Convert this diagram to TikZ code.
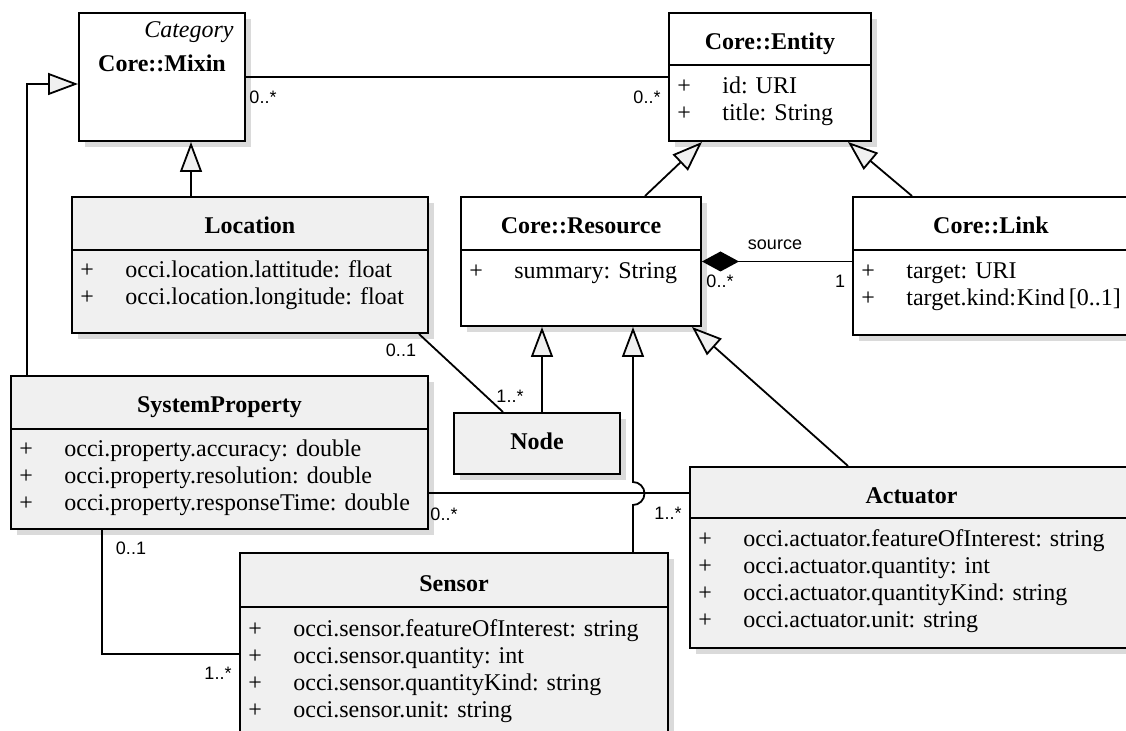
\documentclass[tikz,border=0pt]{standalone}
\usepackage{fontspec}
\setmainfont{Liberation Serif}
\setsansfont{Liberation Sans}
\definecolor{umlfill} {RGB}{240,240,240}
\definecolor{umlshade}{RGB}{218,218,218}
\usetikzlibrary{arrows.meta,positioning,shadows,calc}
\tikzset{
  cls/.style={rectangle,draw=black,line width=1pt,fill=#1,anchor=north west,
              inner sep=0pt,drop shadow={shadow xshift=3pt,shadow yshift=-3pt,
              fill=umlshade,opacity=1}},
  cls/.default=white,
  ttl/.style={anchor=base,inner sep=0pt,font=\fontsize{12}{13.5}\selectfont\bfseries},
  attr/.style={anchor=base west,inner sep=0pt,xshift=4.5pt,
               font=\fontsize{12}{13.5}\selectfont},
  divider/.style={line width=1pt},
  gen/.style={-{Triangle[open,fill=umlfill,length=15pt,width=11pt]},line width=0.9pt},
  assoc/.style={line width=0.9pt},
  comp/.style={{Diamond[length=18.5pt,width=10pt]}-,line width=0.9pt},
  mult/.style={font=\sffamily\fontsize{9}{10}\selectfont,inner sep=0pt},
}
\begin{document}
\begin{tikzpicture}[x=0.5pt,y=-0.5pt]
  \useasboundingbox (0,0) rectangle (1126,731);
  \clip (0,0) rectangle (1126,731);
  % class boxes
  \node[cls,minimum width=83pt,minimum height=64pt] (mixin) at (78,12) {};
  \node[cls,minimum width=101pt,minimum height=64pt] (entity) at (668,12) {};
  \node[cls=umlfill,minimum width=178pt,minimum height=68pt] (loc) at (71,196) {};
  \node[cls,minimum width=120pt,minimum height=64.5pt] (res) at (460,196) {};
  \node[cls,minimum width=138pt,minimum height=69pt] (link) at (852,196) {};
  \node[cls=umlfill,minimum width=208.5pt,minimum height=76.5pt] (sys) at (10,375) {};
  \node[cls=umlfill,minimum width=83pt,minimum height=30.5pt] (nd) at (453,412) {};
  \node[cls=umlfill,minimum width=221.5pt,minimum height=90.5pt] (act) at (689,466) {};
  \node[cls=umlfill,minimum width=214pt,minimum height=100pt] (sen) at (239,552) {};
  % compartments
  \draw[divider] (entity.west |- 0,65) -- (entity.east |- 0,65);
  \draw[divider] (loc.west |- 0,250) -- (loc.east |- 0,250);
  \draw[divider] (res.west |- 0,250) -- (res.east |- 0,250);
  \draw[divider] (link.west |- 0,250) -- (link.east |- 0,250);
  \draw[divider] (sys.west |- 0,429) -- (sys.east |- 0,429);
  \draw[divider] (act.west |- 0,518) -- (act.east |- 0,518);
  \draw[divider] (sen.west |- 0,607) -- (sen.east |- 0,607);
  % names
  \node[anchor=base east,inner sep=0pt,xshift=-6pt,
        font=\fontsize{12}{13.5}\selectfont\itshape] (mixin-st) at (mixin.east |- 0,38) {Category};
  \node[ttl] (mixin-t) at (mixin.north |- 0,72) {Core::Mixin};
  \node[ttl] (entity-t) at (entity.north |- 0,50) {Core::Entity};
  \node[ttl] (loc-t) at (loc.north |- 0,234) {Location};
  \node[ttl] (res-t) at (res.north |- 0,234) {Core::Resource};
  \node[ttl] (link-t) at (link.north |- 0,234) {Core::Link};
  \node[ttl] (sys-t) at (sys.north |- 0,413) {SystemProperty};
  \node[ttl] (nd-t) at (nd.north |- 0,450) {Node};
  \node[ttl] (act-t) at (act.north |- 0,504) {Actuator};
  \node[ttl] (sen-t) at (sen.north |- 0,592) {Sensor};
  % attributes
  \node[attr] (entity-a) at (entity.west |- 0,94) {\begin{tabular}[t]{@{}p{22.5pt}@{}l@{}}
    + & id: URI\\ + & title: String\end{tabular}};
  \node[attr] (loc-a) at (loc.west |- 0,278) {\begin{tabular}[t]{@{}p{22.5pt}@{}l@{}}
    + & occi.location.lattitude: float\\ + & occi.location.longitude: float\end{tabular}};
  \node[attr] (res-a) at (res.west |- 0,279) {\begin{tabular}[t]{@{}p{22.5pt}@{}l@{}}
    + & summary: String\end{tabular}};
  \node[attr] (link-a) at (link.west |- 0,279) {\begin{tabular}[t]{@{}p{22.5pt}@{}l@{}}
    + & target: URI\\ + & target.kind:\hspace{0.5pt}Kind\hspace{2pt}[0..1]\end{tabular}};
  \node[attr] (sys-a) at (sys.west |- 0,457) {\begin{tabular}[t]{@{}p{22.5pt}@{}l@{}}
    + & occi.property.accuracy: double\\
    + & occi.property.resolution: double\\
    + & occi.property.responseTime: double\end{tabular}};
  \node[attr] (act-a) at (act.west |- 0,547) {\begin{tabular}[t]{@{}p{22.5pt}@{}l@{}}
    + & occi.actuator.featureOfInterest: string\\
    + & occi.actuator.quantity: int\\
    + & occi.actuator.quantityKind: string\\
    + & occi.actuator.unit: string\end{tabular}};
  \node[attr] (sen-a) at (sen.west |- 0,637) {\begin{tabular}[t]{@{}p{22.5pt}@{}l@{}}
    + & occi.sensor.featureOfInterest: string\\
    + & occi.sensor.quantity: int\\
    + & occi.sensor.quantityKind: string\\
    + & occi.sensor.unit: string\end{tabular}};
  % generalisations
  \draw[gen] (loc.north -| 191,0) -- (mixin.south -| 191,0);
  \draw[gen] (sys.north -| 27,0) |- (mixin.west |- 0,84);
  \draw[gen] (nd.north -| 542,0) -- (res.south -| 542,0);
  \draw[gen] (res.north -| 645,0) -- (entity.south -| 702,0);
  \draw[gen] (link.north -| 912,0) -- (entity.south -| 848,0);
  \draw[gen] (act.north -| 848,0) -- (res.south -| 692,0);
  \draw[gen] (sen.north -| 633,0) -- (633,505)
    arc[start angle=90,end angle=-90,radius=11.5] -- (res.south -| 633,0);
  % associations
  \draw[assoc] (mixin.east) -- (entity.west);
  \draw[assoc] ([xshift=-5pt]loc.south east) -- ([xshift=25pt]nd.north west);
  \draw[comp] (res.east) -- (res.east -| link.west);
  \draw[assoc] (sys.east |- 0,493) -- (act.west |- 0,493);
  \draw[assoc] (sys.south -| 102,0) |- (sen.west |- 0,654);
  % multiplicities
  \node[mult] (m-mixin) at (263,97) {0..*};
  \node[mult] (m-entity) at (647,97) {0..*};
  \node[mult] (m-loc) at (401,350) {0..1};
  \node[mult] (m-nd) at (510,396) {1..*};
  \node[mult] (src) at (775,245) {source};
  \node[mult] (m-res) at (720,281) {0..*};
  \node[mult] (m-link) at (840,281) {1};
  \node[mult] (m-sys) at (444,514) {0..*};
  \node[mult] (m-act) at (668,513) {1..*};
  \node[mult] (m-sys2) at (131,548) {0..1};
  \node[mult] (m-sen) at (218,673) {1..*};
\end{tikzpicture}
\end{document}
